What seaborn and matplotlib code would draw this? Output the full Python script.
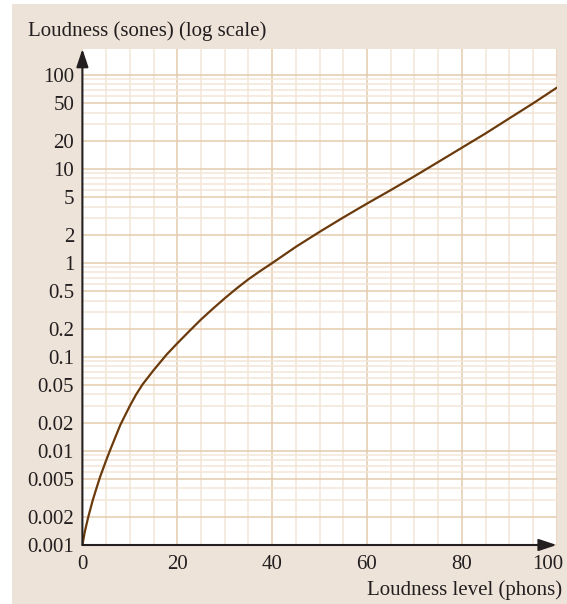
import matplotlib
matplotlib.use("Agg")
import matplotlib.pyplot as plt
import matplotlib.ticker as mticker
import matplotlib.transforms as mtrans
from matplotlib.patches import Rectangle
import seaborn as sns
import pandas as pd

# Data
phons = [0, 0.5, 1.25, 2.2, 3.0, 3.7, 5.0, 6.0, 8.0, 10, 11.3, 12.7, 15, 17.8, 20,
         22.5, 25, 27.5, 30, 32.5, 35, 37.5, 40, 45, 50, 55, 60, 65, 70, 75, 80, 85, 90, 95, 100]
sones = [0.001, 0.00138, 0.002, 0.00302, 0.00407, 0.00525, 0.00794, 0.0107, 0.019, 0.0302,
         0.0398, 0.0513, 0.0724, 0.107, 0.140, 0.188, 0.251, 0.327, 0.422, 0.537, 0.673, 0.824,
         1.0, 1.49, 2.15, 3.06, 4.3, 5.98, 8.4, 11.9, 16.9, 24.0, 34.7, 50.1, 73.5]

y_ticks = [0.001, 0.002, 0.005, 0.01, 0.02, 0.05, 0.1, 0.2, 0.5, 1, 2, 5, 10, 20, 50, 100]
y_tick_labels = ["0.001", "0.002", "0.005", "0.01", "0.02", "0.05", "0.1", "0.2", "0.5",
                 "1", "2", "5", "10", "20", "50", "100"]
x_ticks = [0, 20, 40, 60, 80, 100]
x_tick_labels = ["0", "20", "40", "60", "80", "100"]
y_title = "Loudness (sones) (log scale)"
x_title = "Loudness level (phons)"

df = pd.DataFrame({"phons": phons, "sones": sones})

sns.set_theme(style="white")
plt.rcParams["font.family"] = ["Liberation Serif", "DejaVu Serif"]

BG = "#ede3d8"
GRID_MAJ = "#e3cbae"
GRID_MIN = "#f2e5d7"
LINE = "#6b3a0c"
TXT = "#231f20"

W, H = 567, 604
fig = plt.figure(figsize=(W / 100, H / 100), dpi=100, facecolor="white")
fig.patches.append(Rectangle((12 / W, 0), 1 - 12 / W, 1 - 4 / H, transform=fig.transFigure,
                             facecolor=BG, edgecolor="none", zorder=-10))

left, right = 82.4 / W, 556.7 / W
bottom, top = 1 - 545 / H, 1 - 49 / H
ax = fig.add_axes([left, bottom, right - left, top - bottom])
ax.set_facecolor("white")

sns.lineplot(data=df, x="phons", y="sones", ax=ax, color=LINE, linewidth=1.6, zorder=5)

ax.set_yscale("log")
ax.set_xlim(0, 100)
ax.set_ylim(0.001, 190)

ax.set_yticks(y_ticks)
ax.set_yticklabels(y_tick_labels)
ax.yaxis.set_minor_locator(mticker.LogLocator(base=10, subs=[3, 4, 6, 7, 8, 9], numticks=20))
ax.yaxis.set_minor_formatter(mticker.NullFormatter())
ax.set_xticks(x_ticks)
ax.set_xticklabels(x_tick_labels)
ax.xaxis.set_minor_locator(mticker.MultipleLocator(5))

ax.grid(True, which="major", color=GRID_MAJ, linewidth=1.1, zorder=0)
ax.grid(True, which="minor", color=GRID_MIN, linewidth=1.1, zorder=0)
ax.set_axisbelow(True)

ax.tick_params(axis="y", which="both", length=0, pad=6, labelsize=15, labelcolor=TXT)
ax.tick_params(axis="x", which="major", direction="in", length=6, width=1.2, color=TXT,
               pad=7, labelsize=15, labelcolor=TXT)
ax.tick_params(axis="x", which="minor", length=0)

# shift the last x tick label left so it stays inside the figure, as in the reference
last = ax.get_xticklabels()[-1]
last.set_transform(last.get_transform() + mtrans.ScaledTranslation(-9 / 100, 0, fig.dpi_scale_trans))

for s in ax.spines.values():
    s.set_visible(False)

ax.set_xlabel("")
ax.set_ylabel("")

# axes with arrows
ax.annotate("", xy=(0, 1.0), xytext=(0, 0), xycoords="axes fraction",
            arrowprops=dict(arrowstyle="-|>,head_length=0.9,head_width=0.3", color=TXT, lw=1.5,
                            shrinkA=0, shrinkB=0), zorder=10, annotation_clip=False)
ax.annotate("", xy=(1.0, 0), xytext=(0, 0), xycoords="axes fraction",
            arrowprops=dict(arrowstyle="-|>,head_length=0.9,head_width=0.3", color=TXT, lw=1.5,
                            shrinkA=0, shrinkB=0), zorder=10, annotation_clip=False)

fig.text(28 / W, 1 - 31 / H, y_title, ha="left", va="center", fontsize=15, color=TXT)
fig.text(562 / W, 1 - 590 / H, x_title, ha="right", va="center", fontsize=15, color=TXT)

fig.savefig("out.png", dpi=100, facecolor=fig.get_facecolor())
